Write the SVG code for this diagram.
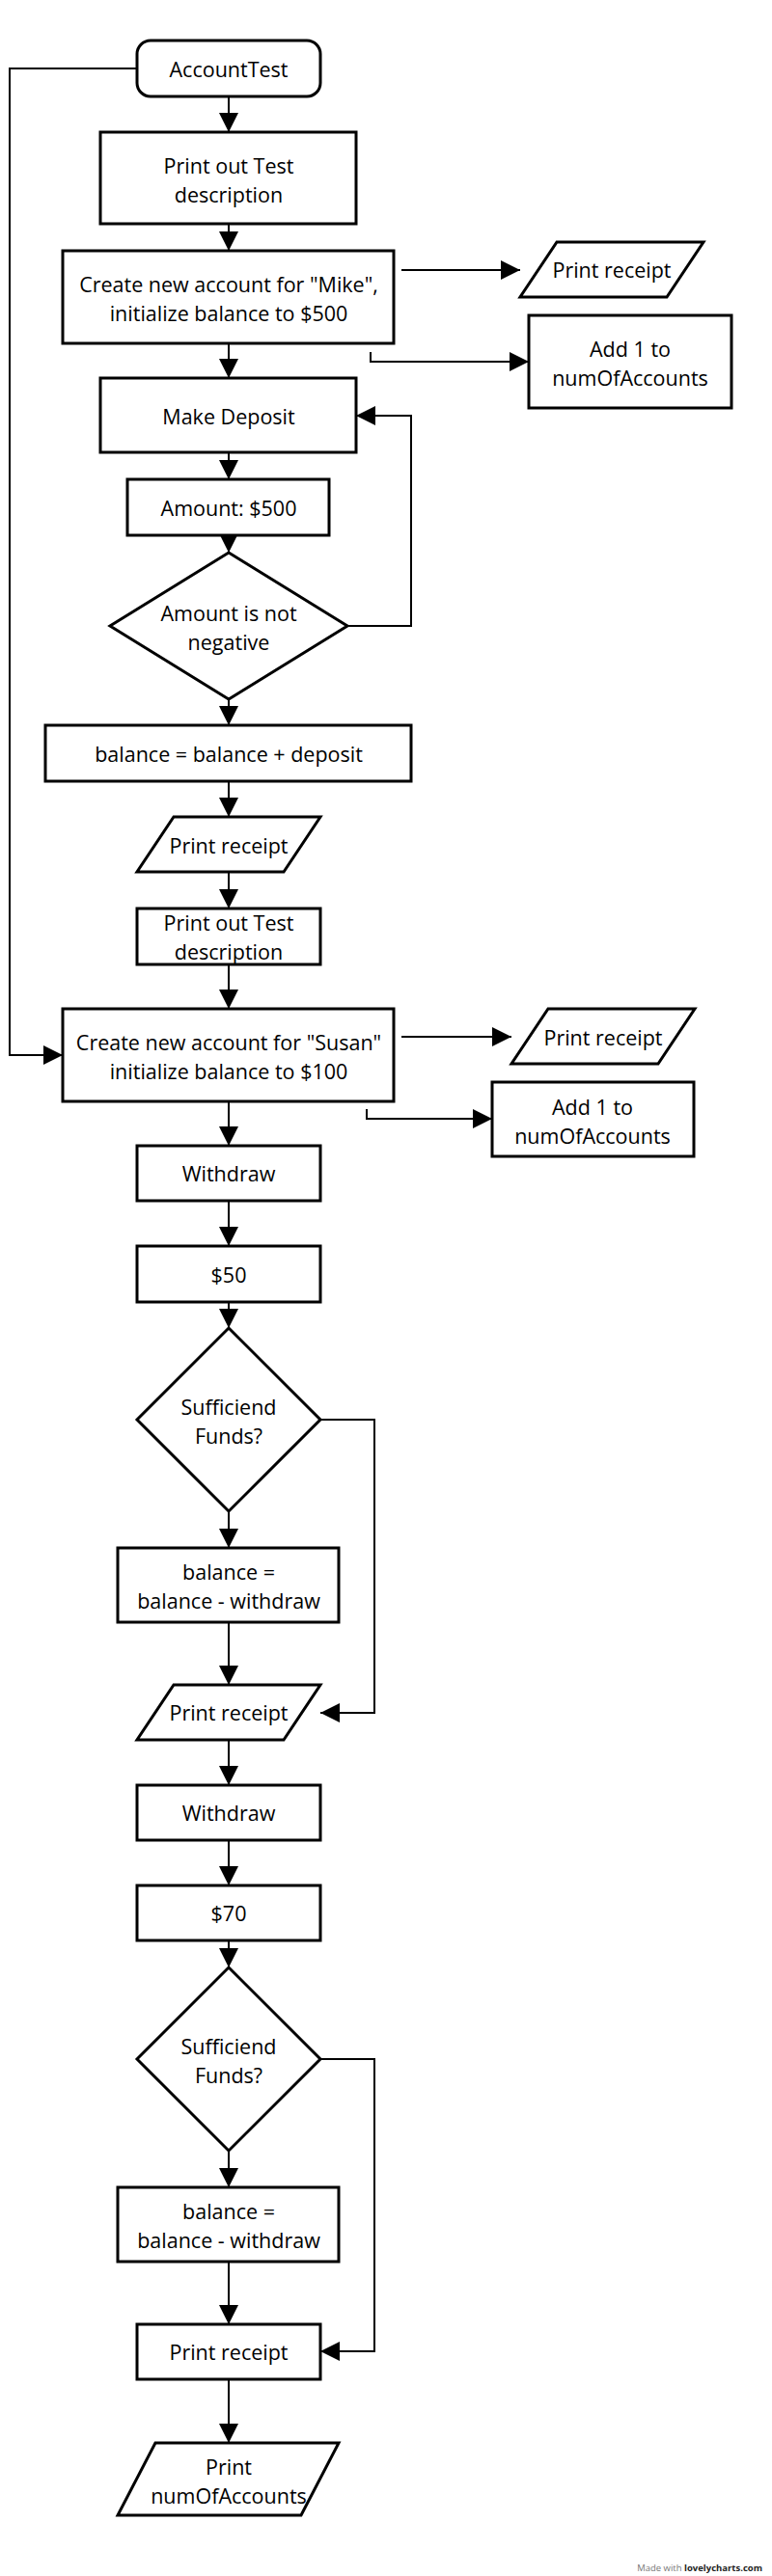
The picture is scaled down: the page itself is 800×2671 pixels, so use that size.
<svg xmlns="http://www.w3.org/2000/svg" width="800" height="2671" viewBox="0 0 800 2671">
<style>
.n{fill:#fff;stroke:#000;stroke-width:3;stroke-linejoin:miter}
.t{font-family:"Open Sans","Noto Sans","DejaVu Sans",sans-serif;font-size:21.5px;fill:#000;text-anchor:middle;dominant-baseline:central}
.c{fill:none;stroke:#000;stroke-width:2;marker-end:url(#ah)}
.wm{font-family:"Open Sans","Liberation Sans",sans-serif;font-size:9.5px;text-anchor:end}
</style>
<defs>
<marker id="ah" markerUnits="userSpaceOnUse" markerWidth="20" markerHeight="20" refX="20" refY="10" orient="auto">
<path d="M0,0 L20,10 L0,20 Z" fill="#000"/>
</marker>
</defs>
<rect width="800" height="2671" fill="#fff"/>
<g id="connectors">
<path class="c" d="M237,100 V137"/>
<path class="c" d="M237,232 V260"/>
<path class="c" d="M416,280 H539"/>
<path class="c" d="M384,365 V375 H548"/>
<path class="c" d="M237,356 V392"/>
<path class="c" d="M237,469 V497"/>
<path class="c" d="M237,555 V573"/>
<path class="c" d="M360,649 H426 V431 H369"/>
<path class="c" d="M237,725 V752"/>
<path class="c" d="M237,810 V847"/>
<path class="c" d="M237,904 V942"/>
<path class="c" d="M237,1000 V1046"/>
<path class="c" d="M142,71 H10 V1094 H65"/>
<path class="c" d="M416,1075 H530"/>
<path class="c" d="M380,1150 V1160 H510"/>
<path class="c" d="M237,1142 V1188"/>
<path class="c" d="M237,1245 V1292"/>
<path class="c" d="M237,1350 V1377"/>
<path class="c" d="M237,1567 V1605"/>
<path class="c" d="M332,1472 H388 V1776 H332"/>
<path class="c" d="M237,1682 V1747"/>
<path class="c" d="M237,1804 V1851"/>
<path class="c" d="M237,1908 V1955"/>
<path class="c" d="M237,2012 V2040"/>
<path class="c" d="M237,2230 V2268"/>
<path class="c" d="M332,2135 H388 V2438 H332"/>
<path class="c" d="M237,2345 V2410"/>
<path class="c" d="M237,2467 V2533"/>
</g>
<g id="start"><rect class="n" x="142" y="42" width="190" height="58" rx="14"/><text class="t" x="237" y="71">AccountTest</text></g>
<g id="desc1"><rect class="n" x="104" y="137" width="265" height="95"/><text class="t" x="237" y="171">Print out Test</text><text class="t" x="237" y="201">description</text></g>
<g id="mike"><rect class="n" x="65" y="260" width="343" height="96"/><text class="t" x="237" y="294">Create new account for "Mike",</text><text class="t" x="237" y="324">initialize balance to $500</text></g>
<g id="receipt1"><polygon class="n" points="577,251 729,251 691,308 539,308"/><text class="t" x="634" y="279">Print receipt</text></g>
<g id="add1a"><rect class="n" x="548" y="327" width="210" height="96"/><text class="t" x="653" y="361">Add 1 to</text><text class="t" x="653" y="391">numOfAccounts</text></g>
<g id="deposit"><rect class="n" x="104" y="392" width="265" height="77"/><text class="t" x="237" y="431">Make Deposit</text></g>
<g id="amount"><rect class="n" x="132" y="497" width="209" height="58"/><text class="t" x="237" y="526">Amount: $500</text></g>
<g id="dec1"><polygon class="n" points="237,573 360,649 237,725 114,649"/><text class="t" x="237" y="635">Amount is not</text><text class="t" x="237" y="665">negative</text></g>
<g id="bal1"><rect class="n" x="47" y="752" width="379" height="58"/><text class="t" x="237" y="781">balance = balance + deposit</text></g>
<g id="receipt2"><polygon class="n" points="180,847 332,847 294,904 142,904"/><text class="t" x="237" y="876">Print receipt</text></g>
<g id="desc2"><rect class="n" x="142" y="942" width="190" height="58"/><text class="t" x="237" y="956">Print out Test</text><text class="t" x="237" y="986">description</text></g>
<g id="susan"><rect class="n" x="65" y="1046" width="343" height="96"/><text class="t" x="237" y="1080">Create new account for "Susan"</text><text class="t" x="237" y="1110">initialize balance to $100</text></g>
<g id="receipt3"><polygon class="n" points="568,1046 720,1046 682,1103 530,1103"/><text class="t" x="625" y="1075">Print receipt</text></g>
<g id="add1b"><rect class="n" x="510" y="1122" width="209" height="77"/><text class="t" x="614" y="1147">Add 1 to</text><text class="t" x="614" y="1177">numOfAccounts</text></g>
<g id="withdraw1"><rect class="n" x="142" y="1188" width="190" height="57"/><text class="t" x="237" y="1216">Withdraw</text></g>
<g id="fifty"><rect class="n" x="142" y="1292" width="190" height="58"/><text class="t" x="237" y="1321">$50</text></g>
<g id="dec2"><polygon class="n" points="237,1377 332,1472 237,1567 142,1472"/><text class="t" x="237" y="1458">Sufficiend</text><text class="t" x="237" y="1488">Funds?</text></g>
<g id="bal2"><rect class="n" x="122" y="1605" width="229" height="77"/><text class="t" x="237" y="1629">balance =</text><text class="t" x="237" y="1659">balance - withdraw</text></g>
<g id="receipt4"><polygon class="n" points="180,1747 332,1747 294,1804 142,1804"/><text class="t" x="237" y="1775">Print receipt</text></g>
<g id="withdraw2"><rect class="n" x="142" y="1851" width="190" height="57"/><text class="t" x="237" y="1879">Withdraw</text></g>
<g id="seventy"><rect class="n" x="142" y="1955" width="190" height="57"/><text class="t" x="237" y="1983">$70</text></g>
<g id="dec3"><polygon class="n" points="237,2040 332,2135 237,2230 142,2135"/><text class="t" x="237" y="2121">Sufficiend</text><text class="t" x="237" y="2151">Funds?</text></g>
<g id="bal3"><rect class="n" x="122" y="2268" width="229" height="77"/><text class="t" x="237" y="2292">balance =</text><text class="t" x="237" y="2322">balance - withdraw</text></g>
<g id="receipt5"><rect class="n" x="142" y="2410" width="190" height="57"/><text class="t" x="237" y="2438">Print receipt</text></g>
<g id="printnum"><polygon class="n" points="161,2533 351,2533 312,2608 122,2608"/><text class="t" x="237" y="2557">Print</text><text class="t" x="237" y="2587">numOfAccounts</text></g>
<text class="wm" x="790" y="2666"><tspan fill="#777">Made with </tspan><tspan fill="#222" font-weight="bold">lovelycharts.com</tspan></text>
</svg>
